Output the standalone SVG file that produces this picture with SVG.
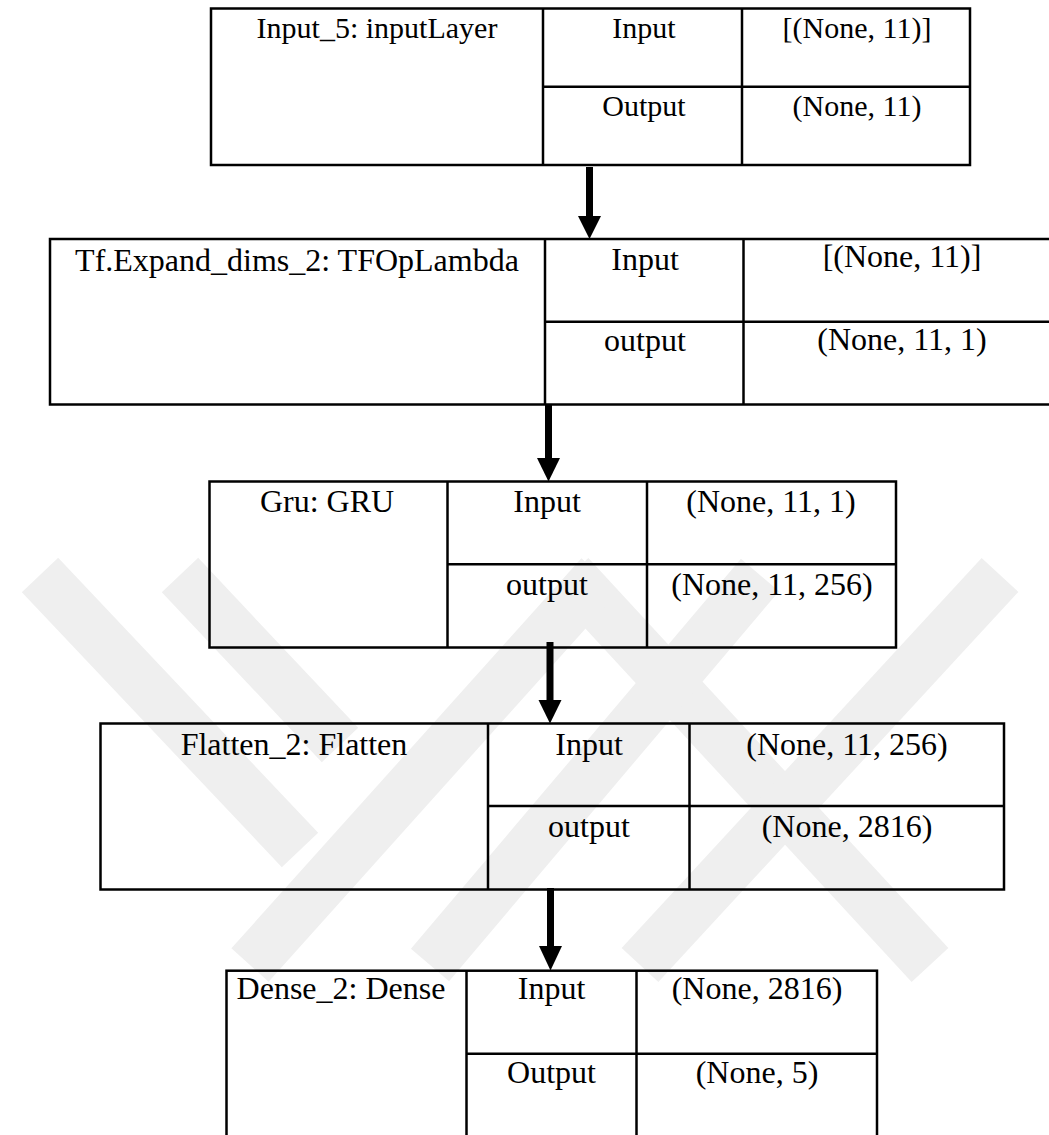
<svg xmlns="http://www.w3.org/2000/svg" width="1049" height="1135" viewBox="0 0 1049 1135">
<style>
.cell{fill:none;stroke:#000;stroke-width:2.5}
text{font-family:"Liberation Serif","Times New Roman",serif;fill:#000;text-anchor:middle}
.t1{font-size:30px}
.t{font-size:32px}
.shaft{stroke:#000;stroke-width:7;fill:none}
.head{fill:#000}
.wm{fill:none;stroke:#efefef;stroke-width:50;stroke-linecap:butt}
</style>
<rect x="0" y="0" width="1049" height="1135" fill="#fff"/>

<g id="watermark">
  <path class="wm" d="M40,575 L300,850"/>
  <path class="wm" d="M180,575 L340,745"/>
  <path class="wm" d="M570,575 L930,965"/>
  <path class="wm" d="M600,575 L250,965"/>
  <path class="wm" d="M760,575 L430,965"/>
  <path class="wm" d="M1000,575 L640,965"/>
</g>

<g id="connectors">
  <line class="shaft" x1="589.5" y1="167" x2="589.5" y2="218"/>
  <polygon class="head" points="578,216 601,216 589.5,239"/>
  <line class="shaft" x1="548.5" y1="404" x2="548.5" y2="461"/>
  <polygon class="head" points="537,458 560,458 548.5,481.5"/>
  <line class="shaft" x1="550" y1="642" x2="550" y2="702"/>
  <polygon class="head" points="538.5,700 561.5,700 550,723.5"/>
  <line class="shaft" x1="550.5" y1="888" x2="550.5" y2="949"/>
  <polygon class="head" points="539,946 562,946 550.5,970.5"/>
</g>

<g id="node-input5">
  <rect class="cell" x="211" y="8.5" width="759" height="156.5"/>
  <line class="cell" x1="543" y1="8.5" x2="543" y2="165"/>
  <line class="cell" x1="742" y1="8.5" x2="742" y2="165"/>
  <line class="cell" x1="543" y1="86.7" x2="970" y2="86.7"/>
  <text class="t1" x="377" y="38">Input_5: inputLayer</text>
  <text class="t1" x="644" y="38">Input</text>
  <text class="t1" x="857" y="38">[(None, 11)]</text>
  <text class="t1" x="644" y="116">Output</text>
  <text class="t1" x="857" y="116">(None, 11)</text>
</g>

<g id="node-expand-dims">
  <rect class="cell" x="50" y="239" width="1020" height="165.5"/>
  <line class="cell" x1="545" y1="239" x2="545" y2="404.5"/>
  <line class="cell" x1="743.5" y1="239" x2="743.5" y2="404.5"/>
  <line class="cell" x1="545" y1="321.7" x2="1049" y2="321.7"/>
  <text class="t" x="297" y="271">Tf.Expand_dims_2: TFOpLambda</text>
  <text class="t" x="645" y="270">Input</text>
  <text class="t" x="902" y="267">[(None, 11)]</text>
  <text class="t" x="645" y="351">output</text>
  <text class="t" x="902" y="350">(None, 11, 1)</text>
</g>

<g id="node-gru">
  <rect class="cell" x="209.5" y="481.5" width="686.5" height="166"/>
  <line class="cell" x1="447.5" y1="481.5" x2="447.5" y2="647.5"/>
  <line class="cell" x1="647" y1="481.5" x2="647" y2="647.5"/>
  <line class="cell" x1="447.5" y1="564.2" x2="896" y2="564.2"/>
  <text class="t" x="327" y="512">Gru: GRU</text>
  <text class="t" x="547" y="512">Input</text>
  <text class="t" x="771" y="512">(None, 11, 1)</text>
  <text class="t" x="547" y="594.5">output</text>
  <text class="t" x="772" y="594.5">(None, 11, 256)</text>
</g>

<g id="node-flatten">
  <rect class="cell" x="100.5" y="723.5" width="903.5" height="166"/>
  <line class="cell" x1="488" y1="723.5" x2="488" y2="889.5"/>
  <line class="cell" x1="689.5" y1="723.5" x2="689.5" y2="889.5"/>
  <line class="cell" x1="488" y1="806" x2="1004" y2="806"/>
  <text class="t" x="294" y="754.5">Flatten_2: Flatten</text>
  <text class="t" x="589" y="754.5">Input</text>
  <text class="t" x="847" y="754.5">(None, 11, 256)</text>
  <text class="t" x="589" y="837">output</text>
  <text class="t" x="847" y="837">(None, 2816)</text>
</g>

<g id="node-dense">
  <rect class="cell" x="226.5" y="970.7" width="650.5" height="180"/>
  <line class="cell" x1="466.5" y1="970.7" x2="466.5" y2="1140"/>
  <line class="cell" x1="636.5" y1="970.7" x2="636.5" y2="1140"/>
  <line class="cell" x1="466.5" y1="1053.7" x2="877" y2="1053.7"/>
  <text class="t" x="341" y="999">Dense_2: Dense</text>
  <text class="t" x="551.5" y="999">Input</text>
  <text class="t" x="757" y="999">(None, 2816)</text>
  <text class="t" x="551.5" y="1083">Output</text>
  <text class="t" x="757" y="1083">(None, 5)</text>
</g>
</svg>
